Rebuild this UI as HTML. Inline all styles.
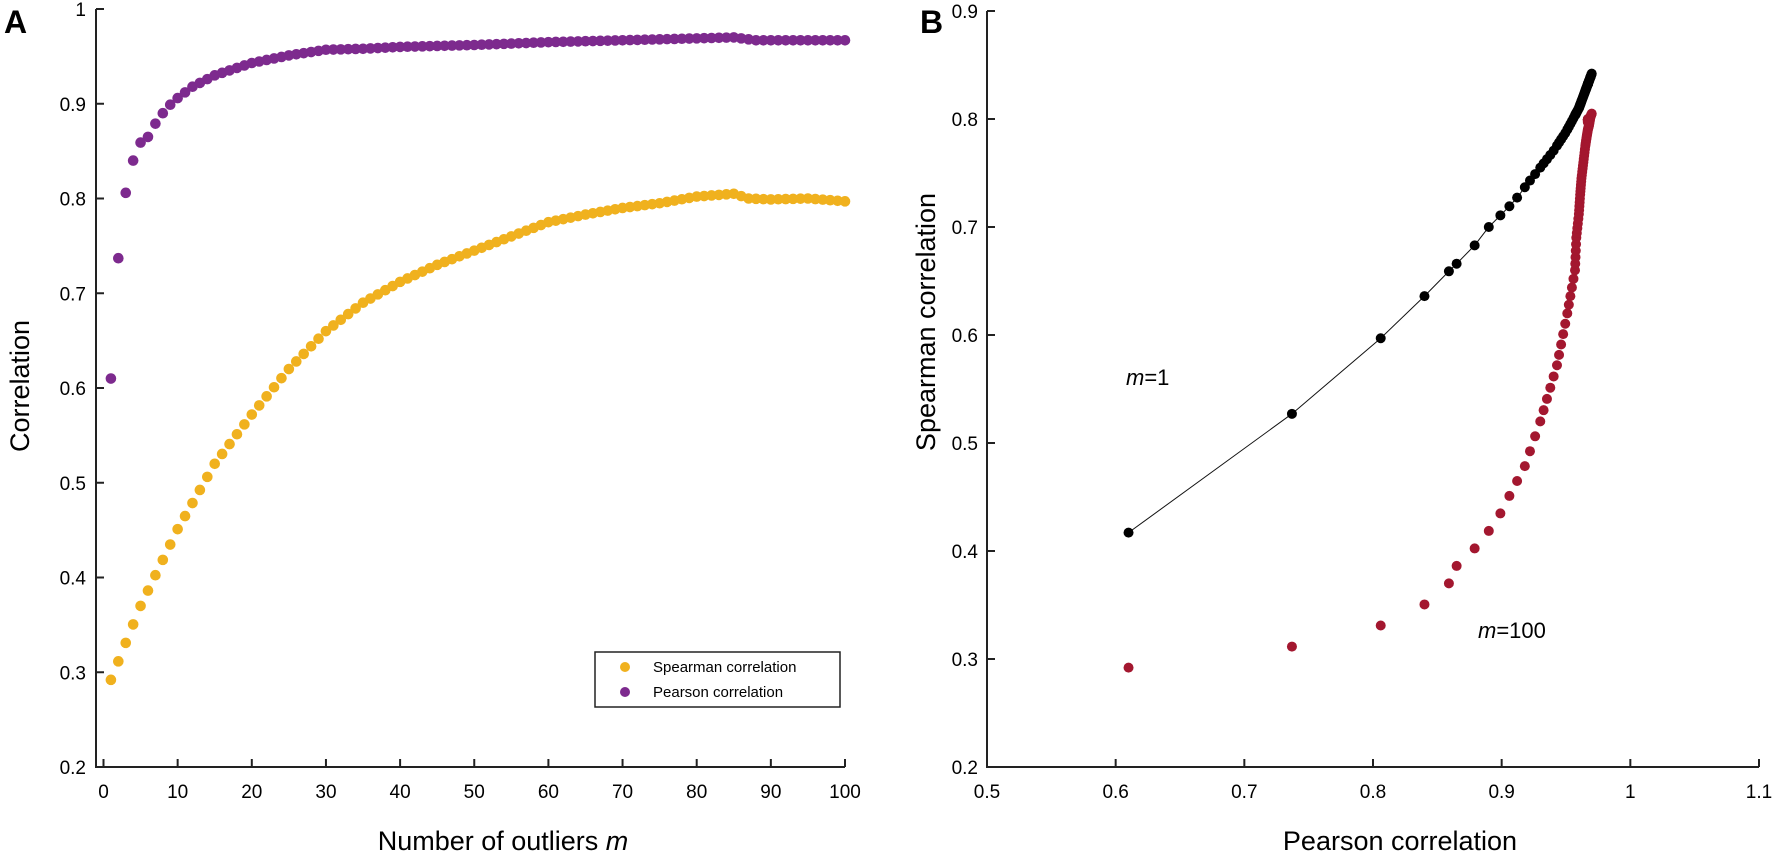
<!DOCTYPE html>
<html><head><meta charset="utf-8"><style>
html,body{margin:0;padding:0;background:#fff;}
svg{display:block;font-family:"Liberation Sans",sans-serif;}
</style></head><body>
<svg id="s" width="1772" height="853" viewBox="0 0 1772 853" xmlns="http://www.w3.org/2000/svg">
<rect width="1772" height="853" fill="#fff"/>
<g id="g"></g>
<text x="4" y="33" font-size="32" font-weight="bold">A</text>
<text x="920" y="33" font-size="32" font-weight="bold">B</text>
<text x="503" y="850" font-size="27" text-anchor="middle">Number of outliers <tspan font-style="italic">m</tspan></text>
<text x="1400" y="850" font-size="27" text-anchor="middle">Pearson correlation</text>
<text transform="translate(29,386) rotate(-90)" font-size="27" text-anchor="middle">Correlation</text>
<text transform="translate(935,322) rotate(-90)" font-size="27" text-anchor="middle">Spearman correlation</text>
<text x="1126" y="385" font-size="22"><tspan font-style="italic">m</tspan>=1</text>
<text x="1478" y="638" font-size="22"><tspan font-style="italic">m</tspan>=100</text>
<rect x="595" y="652" width="245" height="55" fill="#fff" stroke="#222" stroke-width="1.5"/>
<circle cx="625" cy="667" r="5" fill="#F0B11E"/>
<circle cx="625" cy="692" r="5" fill="#7D2A8E"/>
<text x="653" y="672" font-size="15">Spearman correlation</text>
<text x="653" y="697" font-size="15">Pearson correlation</text>
</svg>
<script>
function interp(pts,x){for(var i=0;i<pts.length-1;i++){if(x<=pts[i+1][0]){var a=pts[i],b=pts[i+1];return a[1]+(b[1]-a[1])*(x-a[0])/(b[0]-a[0]);}}return pts[pts.length-1][1];}
var sp=[[1,.292],[5,.37],[10,.451],[15,.52],[20,.572],[25,.62],[30,.66],[35,.69],[40,.712],[45,.73],[50,.745],[55,.76],[60,.775],[65,.783],[70,.79],[75,.795],[80,.802],[85,.805],[87,.8],[90,.799],[95,.8],[100,.797]];
var pe=[[1,.61],[2,.737],[3,.806],[4,.84],[5,.859],[6,.865],[7,.879],[8,.89],[9,.899],[10,.906],[12,.918],[15,.93],[20,.943],[25,.951],[30,.957],[35,.958],[40,.96],[50,.962],[60,.965],[70,.967],[80,.969],[85,.97],[88,.967],[100,.967]];
var bl=[[0.6,.41],[0.61,.417],[0.737,.527],[0.806,.597],[0.84,.636],[0.859,.659],[0.865,.666],[0.879,.683],[0.89,.7],[0.9,.712],[0.91,.724],[0.92,.74],[0.93,.755],[0.94,.77],[0.95,.788],[0.96,.81],[0.97,.842],[0.98,.87]];
var h='';
var AB=767,AT=9,BL=987,BR=1759,BT=11;
function ax(m){return 103.5+m*7.415;} function ay(v){return AT+(1-v)*(AB-AT)/0.8;}
function bx(p){return BL+(p-0.5)*(BR-BL)/0.6;} function by(s){return BT+(0.9-s)*(AB-BT)/0.7;}
h+='<path d="M96 '+AT+'V'+AB+'H845" fill="none" stroke="#222" stroke-width="2"/>';
for(var k=0;k<=8;k++){var v=0.2+k*0.1,y=ay(v);h+='<path d="M96 '+y+'h8" stroke="#222" stroke-width="2"/>';h+='<text x="86" y="'+(y+7)+'" font-size="19" text-anchor="end">'+(k==8?'1':v.toFixed(1))+'</text>';}
for(var k=0;k<=10;k++){var x=ax(k*10);h+='<path d="M'+x+' '+AB+'v-8" stroke="#222" stroke-width="2"/>';h+='<text x="'+x+'" y="'+(AB+31)+'" font-size="19" text-anchor="middle">'+(k*10)+'</text>';}
h+='<path d="M'+BL+' '+BT+'V'+AB+'H'+BR+'" fill="none" stroke="#222" stroke-width="2"/>';
for(var k=0;k<=7;k++){var v=0.2+k*0.1,y=by(v);h+='<path d="M'+BL+' '+y+'h8" stroke="#222" stroke-width="2"/>';h+='<text x="'+(BL-9)+'" y="'+(y+7)+'" font-size="19" text-anchor="end">'+v.toFixed(1)+'</text>';}
var xl=['0.5','0.6','0.7','0.8','0.9','1','1.1'];
for(var k=0;k<=6;k++){var x=bx(0.5+k*0.1);h+='<path d="M'+x+' '+AB+'v-8" stroke="#222" stroke-width="2"/>';h+='<text x="'+x+'" y="'+(AB+31)+'" font-size="19" text-anchor="middle">'+xl[k]+'</text>';}
for(var m=1;m<=100;m++){h+='<circle cx="'+ax(m)+'" cy="'+ay(interp(sp,m))+'" r="5.3" fill="#F0B11E"/>';}
for(var m=1;m<=100;m++){h+='<circle cx="'+ax(m)+'" cy="'+ay(interp(pe,m))+'" r="5.3" fill="#7D2A8E"/>';}
var pts=[];for(var m=1;m<=100;m++){pts.push(interp(pe,m));}
var sorted=pts.slice().sort(function(a,b){return a-b;});
var d='';sorted.forEach(function(p,i){d+=(i?'L':'M')+bx(p)+' '+by(interp(bl,p));});
h+='<path d="'+d+'" fill="none" stroke="#111" stroke-width="1"/>';
for(var m=1;m<=100;m++){var p=pts[m-1];h+='<circle cx="'+bx(p)+'" cy="'+by(interp(sp,m))+'" r="5" fill="#A3172F"/>';}
sorted.forEach(function(p){h+='<circle cx="'+bx(p)+'" cy="'+by(interp(bl,p))+'" r="5" fill="#000"/>';});
document.getElementById('g').innerHTML=h;
</script>
</body></html>
